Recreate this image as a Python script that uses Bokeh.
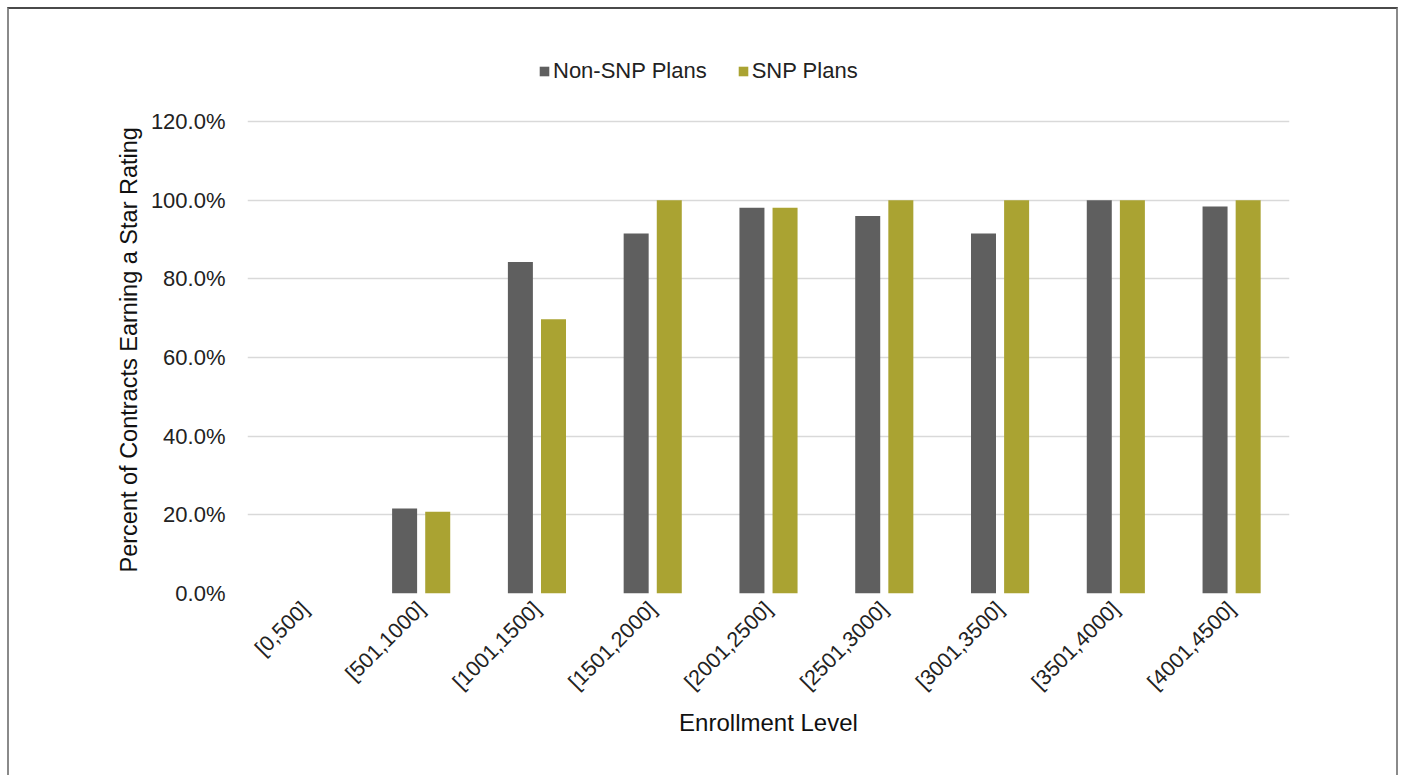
from bokeh.plotting import figure
from bokeh.models import (ColumnDataSource, FixedTicker, NumeralTickFormatter, Legend,
                          LegendItem, Title)
from bokeh.transform import dodge
from bokeh.embed import file_html
from bokeh.resources import INLINE
import math

categories = ["[0,500]", "[501,1000]", "[1001,1500]", "[1501,2000]", "[2001,2500]",
              "[2501,3000]", "[3001,3500]", "[3501,4000]", "[4001,4500]"]
non_snp = [0.0, 0.216, 0.843, 0.915, 0.981, 0.960, 0.915, 1.0, 0.984]
snp = [0.0, 0.208, 0.697, 1.0, 0.981, 1.0, 1.0, 1.0, 1.0]
y_ticks = [0, 0.2, 0.4, 0.6, 0.8, 1.0, 1.2]

FONT = "Liberation Sans"
GRAY = "#5f5f5f"
OLIVE = "#aaa332"

src = ColumnDataSource(dict(cat=categories, non=non_snp, snp=snp))

p = figure(x_range=categories, y_range=(0, 1.3754), width=1391, height=768,
           output_backend="svg", toolbar_location=None,
           min_border_left=238, min_border_right=111, min_border_top=43, min_border_bottom=184)
p.margin = (7, 0, 0, 7)
p.styles = {"border-left": "2px solid #8a8a8a", "border-top": "2px solid #4a4a4a",
            "border-right": "2px solid #8a8a8a", "box-sizing": "border-box"}
p.outline_line_color = None

r1 = p.vbar(x=dodge("cat", -0.143, range=p.x_range), top="non", width=0.216, source=src,
            fill_color=GRAY, line_color=None)
r2 = p.vbar(x=dodge("cat", 0.143, range=p.x_range), top="snp", width=0.216, source=src,
            fill_color=OLIVE, line_color=None)

p.yaxis.ticker = FixedTicker(ticks=y_ticks)
p.yaxis.formatter = NumeralTickFormatter(format="0.0%")
p.xgrid.grid_line_color = None
p.ygrid.grid_line_color = "#d9d9d9"
p.ygrid.grid_line_width = 1.5

for ax in (p.xaxis, p.yaxis):
    ax.axis_line_color = None
    ax.major_tick_line_color = None
    ax.minor_tick_line_color = None
    ax.major_label_text_font = FONT
    ax.major_label_text_color = "#222222"
    ax.axis_label_text_font = FONT
    ax.axis_label_text_font_size = "24px"
    ax.axis_label_text_font_style = "normal"
    ax.axis_label_text_color = "#111111"

p.xaxis.major_label_text_font_size = "21.5px"
p.yaxis.major_label_text_font_size = "22px"
p.yaxis.major_label_standoff = 16
p.xaxis.axis_label = "Enrollment Level"
p.xaxis.major_label_orientation = math.pi / 4
p.xaxis.major_label_standoff = 6
p.xaxis.axis_label_standoff = 3

ytitle = Title(text="Percent of Contracts Earning a Star Rating", align="left", offset=21,
               text_font=FONT, text_font_size="23.5px", text_font_style="normal",
               text_color="#111111", standoff=12)
p.add_layout(ytitle, "left")

legend = Legend(items=[LegendItem(label="Non-SNP Plans", renderers=[r1]),
                       LegendItem(label="SNP Plans", renderers=[r2])],
                orientation="horizontal", location=(291, 509))
legend.label_text_font = FONT
legend.label_text_font_size = "22px"
legend.label_text_color = "#222222"
legend.glyph_width = 12
legend.glyph_height = 12
legend.label_standoff = 3
legend.spacing = 30
legend.padding = 5
legend.margin = 0
legend.border_line_color = None
legend.background_fill_alpha = 0
p.add_layout(legend, "center")

open("out.html", "w").write(file_html(p, INLINE))
